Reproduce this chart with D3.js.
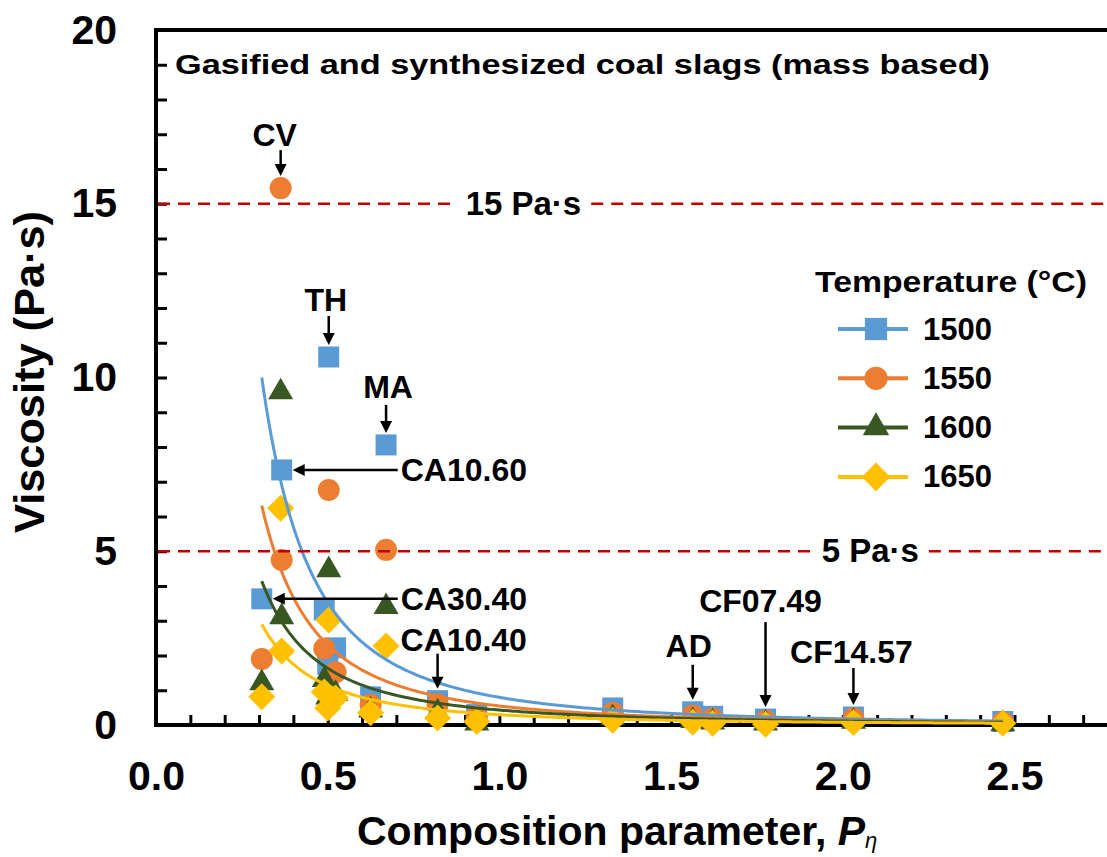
<!DOCTYPE html>
<html>
<head>
<meta charset="utf-8">
<script src="https://cdn.jsdelivr.net/npm/d3@7"></script>
<style>
  body { margin: 0; background: #fff; }
  svg { display: block; }
  text { font-family: "Liberation Sans", Arial, sans-serif; font-weight: bold; fill: #000; }
</style>
</head>
<body>
<svg id="chart" width="1107" height="857"></svg>
<script>
// Composition parameter P_eta of each slag
const pEta = [0.308, 0.363, 0.366, 0.49, 0.5, 0.503, 0.523, 0.625, 0.67, 0.82, 0.934, 1.33, 1.563, 1.621, 1.775, 2.031, 2.466];

// Viscosity (Pa·s) of each slag at each temperature
const visc1500 = [3.63, null, 7.34, 3.31, 1.75, 10.59, 2.22, 0.81, 8.06, 0.70, 0.30, 0.49, 0.38, 0.25, 0.17, 0.23, 0.10];
const visc1550 = [1.90, 15.45, 4.75, 2.20, 1.20, 6.76, 1.52, 0.58, 5.04, 0.60, 0.23, 0.35, 0.27, 0.18, 0.12, 0.19, 0.08];
const visc1600 = [1.21, 9.58, 3.11, 1.30, 0.80, 4.46, 0.90, 0.42, 3.40, 0.37, 0.05, 0.20, 0.12, 0.08, 0.05, 0.10, 0.03];
const visc1650 = [0.81, 6.24, 2.13, 0.95, 0.49, 3.02, 0.78, 0.35, 2.27, 0.20, 0.10, 0.14, 0.08, 0.05, 0.02, 0.07, 0.05];

const temperatures = ["1500", "1550", "1600", "1650"];
const seriesValues = [visc1500, visc1550, visc1600, visc1650];
const seriesColors = ["#5B9BD5", "#ED7D31", "#385723", "#FFC000"];
const seriesShapes = ["square", "circle", "triangle", "diamond"];

// Power-law trendlines  eta = a * P^b
const trendA = [0.796, 0.548, 0.43, 0.297];
const trendB = [-2.149, -2.075, -1.923, -1.935];

// Reference viscosity levels
const refLevels = [15, 5];
const refLabels = ["15 Pa·s", "5 Pa·s"];
const refLabelAt = [1.07, 2.08];

// Axis ticks
const xTicks = d3.range(0, 28).map(i => i / 10);
const xTickLabels = ["0.0", "0.5", "1.0", "1.5", "2.0", "2.5"];
const yTicks = d3.range(0, 21);
const yTickLabels = ["0", "5", "10", "15", "20"];

// Slag annotations: pointing at a given slag/series
const vNotes = [
  { text: "CV",      i: 1,  s: 1, len: 26, dx: -6, lift: 4 , anchor: "middle" },
  { text: "TH",      i: 5,  s: 0, len: 29, dx: -3, lift: 5 , anchor: "middle" },
  { text: "MA",      i: 8,  s: 0, len: 28, dx: 2,  lift: 7 , anchor: "middle" },
  { text: "CA10.40", i: 9,  s: 0, len: 35, dx: -37, lift: 3, anchor: "start" },
  { text: "AD",      i: 12, s: 0, len: 35, dx: -4, lift: 8 , anchor: "middle" },
  { text: "CF07.49", i: 14, s: 0, len: 85, dx: -5, lift: 10, anchor: "middle" },
  { text: "CF14.57", i: 15, s: 0, len: 37, dx: -2, lift: 5 , anchor: "middle" }
];
const hNotes = [
  { text: "CA10.60", i: 2, s: 0, len: 105 },
  { text: "CA30.40", i: 0, s: 0, len: 125 }
];

const W = 1107, H = 857;
const svg = d3.select("#chart");
svg.append("rect").attr("width", W).attr("height", H).attr("fill", "#fff");

const x = d3.scaleLinear().domain([0, 2.8]).range([156, 1117.5]);
const y = d3.scaleLinear().domain([0, 20]).range([725, 30]);
const FONT = '"Liberation Sans", Arial, sans-serif';

// ---- axes ----
const xAxis = d3.axisBottom(x)
  .tickValues(xTicks)
  .tickSizeInner(-10).tickSizeOuter(0).tickPadding(36)
  .tickFormat(d => { const k = Math.round(d * 2); return Math.abs(d * 2 - k) < 1e-6 ? xTickLabels[k] : ""; });
const gx = svg.append("g").attr("transform", `translate(0,${y(0)})`).call(xAxis)
  .attr("font-size", 41).attr("font-family", FONT).attr("font-weight", "bold");
gx.select(".domain").remove();
gx.selectAll(".tick line").attr("stroke", "#000").attr("stroke-width", 3);
gx.selectAll(".tick text").attr("fill", "#000");

const yAxis = d3.axisLeft(y)
  .tickValues(yTicks)
  .tickSizeInner(-11).tickSizeOuter(0).tickPadding(39)
  .tickFormat(d => d % 5 === 0 ? yTickLabels[d / 5] : "");
const gy = svg.append("g").attr("transform", `translate(${x(0)},0)`).call(yAxis)
  .attr("font-size", 41).attr("font-family", FONT).attr("font-weight", "bold");
gy.select(".domain").remove();
gy.selectAll(".tick line").attr("stroke", "#000").attr("stroke-width", 3);
gy.selectAll(".tick text").attr("fill", "#000");

// axis lines and top border
const frame = svg.append("g").attr("stroke", "#000").attr("stroke-width", 4).attr("stroke-linecap", "square");
frame.append("line").attr("x1", x(0)).attr("x2", W + 5).attr("y1", y(0)).attr("y2", y(0));
frame.append("line").attr("x1", x(0)).attr("x2", x(0)).attr("y1", y(0)).attr("y2", y(20));
frame.append("line").attr("x1", x(0)).attr("x2", W + 5).attr("y1", y(20)).attr("y2", y(20));

// ---- marker shapes ----
function shapePath(shape, scale) {
  const k = scale || 1;
  if (shape === "square") return d3.symbol(d3.symbolSquare, 441 * k * k)();
  if (shape === "circle") return d3.symbol(d3.symbolCircle, Math.PI * 11 * 11 * k * k)();
  if (shape === "triangle") { const s = 25 * k; return d3.symbol(d3.symbolTriangle, Math.sqrt(3) / 4 * s * s)(); }
  const h = 13.5 * k; // diamond half-diagonal
  return `M0,${-h}L${h},0L0,${h}L${-h},0Z`;
}

// ---- data markers ----
seriesValues.forEach((vals, s) => {
  const pts = pEta.map((p, i) => ({ p, v: vals[i] })).filter(d => d.v != null);
  svg.append("g").selectAll("path").data(pts).join("path")
    .attr("d", shapePath(seriesShapes[s]))
    .attr("transform", d => `translate(${x(d.p)},${y(d.v)})`)
    .attr("fill", seriesColors[s]);
});

// ---- power trendlines ----
const pMin = d3.min(pEta), pMax = d3.max(pEta);
const samples = d3.range(0, 301).map(j => pMin + (pMax - pMin) * j / 300);
const line = d3.line().x(d => x(d[0])).y(d => y(d[1]));
trendA.forEach((a, s) => {
  svg.append("path")
    .attr("d", line(samples.map(p => [p, a * Math.pow(p, trendB[s])])))
    .attr("fill", "none").attr("stroke", seriesColors[s]).attr("stroke-width", 3);
});

// ---- reference lines with labels ----
const refLineLayer = svg.append("g").attr("stroke", "#C00000").attr("stroke-width", 2.5)
  .attr("stroke-dasharray", "12,8");
const refTextLayer = svg.append("g");
refLevels.forEach((lv, k) => {
  const cx = x(refLabelAt[k]), cy = y(lv);
  const t = refTextLayer.append("text").attr("x", cx).attr("y", cy + 11)
    .attr("text-anchor", "middle").attr("font-size", 33).text(refLabels[k]);
  const bb = t.node().getBBox();
  refLineLayer.append("line").attr("x1", x(0) + 2).attr("x2", bb.x - 10).attr("y1", cy).attr("y2", cy);
  refLineLayer.append("line").attr("x1", bb.x + bb.width + 10).attr("x2", W).attr("y1", cy).attr("y2", cy);
});

// ---- annotations ----
const notes = svg.append("g");
function arrowHead(tx, ty, dir) {
  const L = 12, Hh = 6;
  const pts = dir === "down"
    ? [[tx, ty], [tx - Hh, ty - L], [tx + Hh, ty - L]]
    : [[tx, ty], [tx + L, ty - Hh], [tx + L, ty + Hh]];
  notes.append("path").attr("d", "M" + pts.map(p => p.join(",")).join("L") + "Z").attr("fill", "#000");
}
vNotes.forEach(n => {
  const px = x(pEta[n.i]), py = y(seriesValues[n.s][n.i]);
  const tip = py - 12, tail = tip - n.len;
  notes.append("line").attr("x1", px).attr("x2", px).attr("y1", tail).attr("y2", tip - 8)
    .attr("stroke", "#000").attr("stroke-width", 2.5);
  arrowHead(px, tip, "down");
  notes.append("text").attr("x", px + n.dx).attr("y", tail - n.lift)
    .attr("text-anchor", n.anchor).attr("font-size", 32).text(n.text);
});
hNotes.forEach(n => {
  const px = x(pEta[n.i]), py = y(seriesValues[n.s][n.i]);
  const tip = px + 11, tail = tip + n.len;
  notes.append("line").attr("x1", tip + 8).attr("x2", tail).attr("y1", py).attr("y2", py)
    .attr("stroke", "#000").attr("stroke-width", 2.5);
  arrowHead(tip, py, "left");
  notes.append("text").attr("x", tail + 3).attr("y", py + 11)
    .attr("font-size", 32).text(n.text);
});

// ---- chart title ----
svg.append("text").attr("x", 175).attr("y", 74).attr("font-size", 27)
  .attr("textLength", 815).attr("lengthAdjust", "spacingAndGlyphs")
  .text("Gasified and synthesized coal slags (mass based)");

// ---- axis titles ----
const xt = svg.append("text").attr("x", 357).attr("y", 845).attr("font-size", 41);
xt.append("tspan").text("Composition parameter, ");
xt.append("tspan").attr("font-style", "italic").text("P");
xt.append("tspan").attr("font-style", "italic").attr("font-weight", "normal")
  .attr("font-size", 22).attr("dy", 3).text("η");

svg.append("text").attr("transform", `translate(44,372) rotate(-90)`)
  .attr("text-anchor", "middle").attr("font-size", 42)
  .attr("textLength", 322).attr("lengthAdjust", "spacingAndGlyphs")
  .text("Viscosity (Pa·s)");

// ---- legend ----
const lg = svg.append("g");
lg.append("text").attr("x", 815).attr("y", 292).attr("font-size", 30)
  .attr("textLength", 272).attr("lengthAdjust", "spacingAndGlyphs")
  .text("Temperature (°C)");
temperatures.forEach((t, s) => {
  const cy = 329 + s * 49.3;
  lg.append("line").attr("x1", 838).attr("x2", 908).attr("y1", cy).attr("y2", cy)
    .attr("stroke", seriesColors[s]).attr("stroke-width", 4);
  lg.append("path").attr("d", shapePath(seriesShapes[s], 1.06))
    .attr("transform", `translate(876,${cy})`).attr("fill", seriesColors[s]);
  lg.append("text").attr("x", 923).attr("y", cy + 10.5).attr("font-size", 31).text(t);
});
</script>
</body>
</html>
